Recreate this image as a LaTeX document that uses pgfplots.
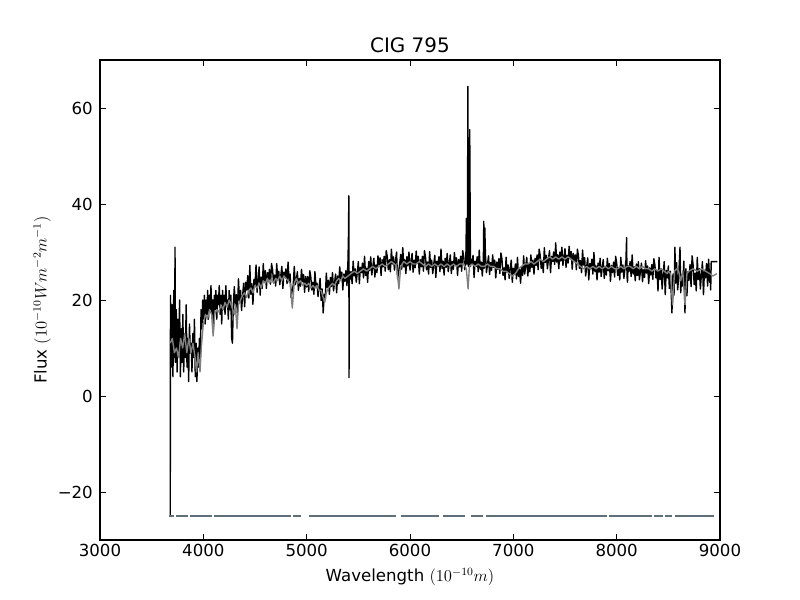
\documentclass[border=0pt]{standalone}
\usepackage{pgfplots}
\pgfplotsset{compat=1.18}
\usepackage{fontspec}
\setmainfont{DejaVu Sans}
\definecolor{mgray}{HTML}{808080}
\definecolor{slate}{HTML}{60707A}
\begin{document}
\begin{tikzpicture}
\useasboundingbox (0,0) rectangle (578.16pt,433.62pt);
\begin{axis}[
  at={(72.27pt,43.36pt)}, anchor=south west,
  scale only axis, width=448.07pt, height=346.9pt,
  xmin=3000, xmax=9000, ymin=-30, ymax=70,
  xtick={3000,4000,5000,6000,7000,8000,9000},
  xticklabels={3000,4000,5000,6000,7000,8000,9000},
  ytick={-20,0,20,40,60},
  yticklabels={−20,0,20,40,60},
  tick align=inside,
  major tick length=4pt,
  tick style={black, line width=0.5pt},
  axis line style={line width=1pt},
  xticklabel style={anchor=base, yshift=-11.8pt, inner sep=0pt, font=\fontsize{12}{14}\selectfont},
  yticklabel style={anchor=east, xshift=-5pt, inner sep=0pt, font=\fontsize{12}{14}\selectfont},
  title={CIG 795},
  every axis title shift=0pt,
  title style={at={(axis description cs:0.5,1)}, anchor=base, yshift=5.4pt, inner sep=0pt, font=\fontsize{14.4}{17}\selectfont},
  xlabel={Wavelength $(10^{-10} m)$},
  xlabel style={at={(axis description cs:0.5,0)}, anchor=base, yshift=-30.3pt, inner sep=0pt, font=\fontsize{12}{14}\selectfont},
  ylabel={Flux $(10^{-10} W m^{-2} m^{-1})$},
  ylabel style={at={(axis description cs:0,0.5)}, anchor=center, rotate=0, yshift=41.9pt, inner sep=0pt, font=\fontsize{12}{14}\selectfont},
  unbounded coords=jump,
  clip=true,
]
% observed spectrum
\addplot[black, line width=1pt, line join=round] coordinates {
(3680,-25)(3682,21)(3690,6)(3698,19)(3706,4)(3714,22)(3722,8)(3726,31)(3730,7)(3738,18)
(3746,5)(3754,16)(3762,9)(3770,20)(3778,4)(3786,14)(3794,7)(3802,17)(3810,5)(3818,13)
(3826,8)(3834,19)(3842,6)(3850,12)(3858,3)(3866,15)(3874,9)(3882,11)(3890,5)(3898,13)
(3906,8)(3914,16)(3922,4)(3930,11)(3938,3)(3946,10)(3954,6)(3962,12)(3970,7)(3978,18)
(3986,14)(3994,20)(4002,16)(4010,21)(4018,15)(4026,20)(4034,17)(4042,22)(4050,16)(4058,21)
(4066,18)(4074,23)(4082,17)(4090,20)(4098,14)(4106,21)(4114,18)(4122,22)(4130,16)(4138,21)
(4146,19)(4154,23)(4162,17)(4170,21)(4178,15)(4186,22)(4194,18)(4202,21)(4210,17)(4218,23)
(4226,19)(4234,20)(4242,16)(4250,22)(4258,18)(4266,21)(4274,12)(4282,11)(4290,19)
(4300,22.8)(4310,18.7)(4320,21.1)(4330,17.4)(4340,24.4)(4350,19.8)(4360,22.0)(4370,17.8)(4380,20.8)(4390,23.5)
(4400,18.6)(4410,23.7)(4420,22.1)(4430,25.1)(4440,20.4)(4450,27.2)(4460,21.2)(4470,23.4)(4480,19.1)(4490,24.3)
(4500,23.0)(4510,27.3)(4520,21.6)(4530,24.2)(4540,26.9)(4550,21.0)(4560,24.8)(4570,22.4)(4580,27.6)(4590,23.7)
(4600,26.1)(4610,22.4)(4620,25.7)(4630,24.2)(4640,26.4)(4650,23.3)(4660,27.6)(4670,26.3)(4680,23.6)(4690,25.2)
(4700,22.9)(4710,27.6)(4720,24.5)(4730,26.0)(4740,23.2)(4750,25.2)(4760,27.0)(4770,22.4)(4780,25.8)(4790,24.7)
(4800,26.5)(4810,23.4)(4820,27.9)(4830,23.9)(4840,25.4)(4850,20.5)(4860,22.0)(4870,23.1)(4880,27.0)(4890,23.2)
(4900,24.1)(4910,25.9)(4920,22.0)(4930,24.5)(4940,22.9)(4950,26.4)(4960,23.8)(4970,25.3)(4980,21.6)(4990,24.9)
(5000,22.7)(5010,24.9)(5020,21.8)(5030,26.1)(5040,24.8)(5050,22.1)(5060,23.7)(5070,21.2)(5080,25.9)(5090,22.8)
(5100,23.5)(5110,20.7)(5120,22.7)(5130,24.5)(5140,19.9)(5150,22.3)(5160,17.3)(5170,21.2)(5180,20.1)(5190,25.6)
(5200,22.6)(5210,24.1)(5220,21.2)(5230,24.7)(5240,22.8)(5250,25.7)(5260,21.9)(5270,23.6)(5280,25.4)(5290,21.5)
(5300,25.0)(5310,23.4)(5320,26.9)(5330,24.3)(5340,25.8)(5350,22.1)(5360,25.4)(5370,23.9)(5380,26.1)(5390,23.0)
(5400,28.3)(5405,34)(5408,41.7)(5410,3.8)(5413,26)(5420,24.3)(5430,25.9)(5440,23.4)(5450,28.1)(5460,25.0)(5470,26.5)(5480,23.7)(5490,25.7)
(5500,28.0)(5510,23.4)(5520,26.8)(5530,25.7)(5540,27.7)(5550,24.6)(5560,29.1)(5570,25.1)(5580,26.6)(5590,23.7)
(5600,28.0)(5610,26.1)(5620,29.0)(5630,25.2)(5640,26.9)(5650,28.7)(5660,24.8)(5670,27.3)(5680,25.7)(5690,29.2)
(5700,27.3)(5710,28.8)(5720,25.1)(5730,28.4)(5740,26.9)(5750,29.1)(5760,26.0)(5770,30.3)(5780,29.0)(5790,26.3)
(5800,28.4)(5810,25.9)(5820,30.6)(5830,27.5)(5840,29.0)(5850,26.2)(5860,28.2)(5870,30.0)(5880,24.4)(5890,25.8)
(5900,27.5)(5910,29.5)(5920,26.4)(5930,30.9)(5940,26.9)(5950,28.4)(5960,25.5)(5970,29.0)(5980,27.1)(5990,30.0)
(6000,26.2)(6010,27.9)(6020,29.7)(6030,25.8)(6040,28.3)(6050,26.7)(6060,30.2)(6070,27.6)(6080,29.1)(6090,25.4)
(6100,28.4)(6110,26.9)(6120,29.1)(6130,26.0)(6140,30.3)(6150,29.0)(6160,26.3)(6170,27.9)(6180,25.4)(6190,30.1)
(6200,26.8)(6210,28.3)(6220,25.5)(6230,27.5)(6240,29.3)(6250,24.7)(6260,28.1)(6270,27.0)(6280,29.0)(6290,25.9)
(6300,30.6)(6310,26.6)(6320,28.1)(6330,25.2)(6340,28.7)(6350,26.8)(6360,29.7)(6370,25.9)(6380,27.6)(6390,29.4)
(6400,25.5)(6410,28.0)(6420,26.4)(6430,29.9)(6440,27.3)(6450,28.8)(6460,25.1)(6470,28.4)(6480,26.9)(6490,29.1)
(6500,26.0)(6510,30.3)(6520,29.0)(6530,26.3)(6540,27.9)(6546,37)(6550,27.5)(6556,30)(6560,64.5)(6565,27)
(6572,28)(6578,55.5)(6585,27)(6590,28.5)
(6600,27.5)(6610,29.3)(6620,24.7)(6630,28.1)(6640,27.0)(6650,29.0)(6660,25.9)(6670,30.4)(6680,26.4)(6690,27.9)
(6700,25.0)(6710,28.5)(6714,36.4)(6718,26.6)(6724,35.0)(6730,29.5)(6740,25.7)(6750,27.4)(6760,29.2)(6770,25.3)(6780,27.8)(6790,26.2)
(6800,29.4)(6810,26.8)(6820,28.3)(6830,24.6)(6840,27.9)(6850,26.4)(6860,28.6)(6870,25.5)(6880,29.8)(6890,28.5)
(6900,25.1)(6910,26.7)(6920,24.2)(6930,28.9)(6940,25.8)(6950,27.3)(6960,24.5)(6970,26.5)(6980,28.3)(6990,23.7)
(7000,26.6)(7010,25.5)(7020,27.5)(7030,24.4)(7040,28.9)(7050,24.9)(7060,26.4)(7070,23.5)(7080,27.0)(7090,25.1)
(7100,29.2)(7110,25.4)(7120,27.1)(7130,28.9)(7140,25.0)(7150,27.5)(7160,25.9)(7170,29.4)(7180,26.8)(7190,28.3)
(7200,25.4)(7210,28.7)(7220,27.2)(7230,29.4)(7240,26.3)(7250,30.6)(7260,29.3)(7270,26.6)(7280,28.2)(7290,25.7)
(7300,30.9)(7310,27.8)(7320,29.3)(7330,26.5)(7340,28.5)(7350,30.3)(7360,25.7)(7370,29.1)(7380,28.0)(7390,30.0)
(7400,27.4)(7410,31.9)(7420,27.9)(7430,29.4)(7440,26.5)(7450,30.0)(7460,28.1)(7470,31.0)(7480,27.2)(7490,28.9)
(7500,30.7)(7510,26.8)(7520,29.3)(7530,27.7)(7540,31.2)(7550,28.6)(7560,30.1)(7570,26.4)(7580,29.7)(7590,28.2)
(7600,29.4)(7610,26.3)(7620,30.6)(7630,29.3)(7640,26.6)(7650,28.2)(7660,25.7)(7670,30.4)(7680,27.3)(7690,28.8)
(7700,25.0)(7710,27.0)(7720,28.8)(7730,24.2)(7740,27.6)(7750,26.5)(7760,28.5)(7770,25.4)(7780,29.9)(7790,25.9)
(7800,27.1)(7810,24.2)(7820,27.7)(7830,25.8)(7840,28.7)(7850,24.9)(7860,26.6)(7870,28.4)(7880,24.5)(7890,27.0)
(7900,25.2)(7910,28.7)(7920,26.1)(7930,27.6)(7940,23.9)(7950,27.2)(7960,25.7)(7970,27.9)(7980,24.8)(7990,29.1)
(8000,27.8)(8010,25.1)(8020,26.7)(8030,24.2)(8040,28.9)(8050,25.8)(8060,27.3)(8070,24.5)(8080,26.5)(8090,28.3)
(8096,33)(8100,25)(8105,23.7)(8110,27.1)(8120,26.0)(8130,28.0)(8140,24.9)(8150,29.4)(8160,25.4)(8170,26.9)(8180,24.0)(8190,27.5)
(8200,25.1)(8210,28.0)(8220,24.2)(8230,25.9)(8240,27.7)(8250,23.8)(8260,26.3)(8270,24.7)(8280,28.2)(8290,25.6)
(8300,27.1)(8310,23.4)(8320,26.7)(8330,25.2)(8340,27.4)(8350,24.3)(8360,28.6)(8370,27.3)(8380,24.6)(8390,26.2)
(8400,21.9)(8410,28.9)(8420,24.3)(8430,26.5)(8440,22.3)(8450,25.3)(8460,28.0)(8470,21.1)(8480,26.2)(8490,24.6)
(8500,27.1)(8510,22.4)(8520,26.0)(8535,17.3)(8545,25.4)(8555,21.0)(8564,31)(8570,23.5)(8580,27.8)(8590,22.1)
(8600,24.7)(8613,31.0)(8620,21.5)(8630,25.3)(8640,22.9)(8650,28.1)(8661,17.3)(8670,26.5)(8680,20.9)(8690,25.9)
(8700,24.1)(8710,27.4)(8720,22.8)(8730,29.2)(8740,27.3)(8750,23.2)(8760,25.6)(8770,21.9)(8780,28.9)(8790,24.3)
(8800,26.5)(8810,22.3)(8820,25.3)(8830,28.0)(8840,21.1)(8850,26.2)(8860,24.6)(8870,27.6)(8880,22.9)(8890,28.5)
(8900,23.7)(8905,26)(8910,22.1)(8915,28)(8975,28)
};
% model spectrum
\addplot[mgray, line width=1pt, line join=round] coordinates {
(3680,11)(3700,12)(3720,9)(3740,10)(3760,8)(3780,12)(3800,10)(3820,13)(3840,9)(3860,12)
(3880,9)(3900,11)(3920,8)(3934,5)(3950,9)(3968,5)(3980,10)(4000,15)(4020,17)(4040,16)
(4060,18)(4080,17)(4095,12.5)(4110,17)(4130,18)(4150,17.5)(4170,19)(4190,18)(4210,19.5)(4230,18.5)
(4250,20)(4270,19)(4300,17)(4310,19)(4326,14)(4340,19)(4360,20)(4380,21)(4400,21.5)(4420,20.5)
(4440,22)(4460,22.5)(4480,21.5)(4500,23)(4520,22.5)(4540,23.5)(4560,22.5)(4580,24)(4600,23.5)(4620,24.5)
(4640,23.5)(4660,24.5)(4680,23.5)(4700,24.5)(4720,24)(4740,25)(4760,24)(4780,25)(4800,24.5)(4820,24)
(4840,23.5)(4861,18.3)(4880,23.5)(4900,24.5)(4920,23.5)(4940,24)(4960,23)(4980,23.5)(5000,23)(5020,23.5)
(5040,22.5)(5060,23)(5080,22.5)(5100,23)(5120,22)(5140,22)(5160,20.5)(5175,19.5)(5190,21.5)(5210,22.5)
(5230,23)(5250,23.5)(5270,23)(5290,24)(5310,24.5)(5330,24)(5350,25)(5370,24.5)(5400,25)(5430,25.5)
(5460,26)(5490,25.5)(5520,26)(5550,26.5)(5580,26)(5610,26.5)(5640,27)(5670,26.5)(5700,27)(5730,27.5)
(5760,27)(5790,27.5)(5820,28)(5850,27.5)(5870,27)(5893,22.3)(5910,27)(5940,28)(5970,27.5)(6000,28)
(6030,27.5)(6060,27.5)(6090,28)(6120,27.5)(6150,27)(6180,27.5)(6210,27)(6240,27.5)(6270,27)(6300,27.5)
(6330,27)(6360,27.5)(6390,27)(6420,27.5)(6450,27)(6480,27.5)(6520,27.5)(6545,26.5)(6562,22.3)(6575,27)
(6600,27.5)(6630,27)(6660,27.5)(6690,27)(6720,27)(6750,27.5)(6780,27)(6810,27)(6840,26.5)(6870,26.5)
(6900,26)(6930,26)(6960,25.5)(6990,25)(7020,25.5)(7050,26.5)(7080,27)(7110,27.5)(7140,27.5)(7170,28)
(7200,27.5)(7230,28)(7260,28.5)(7290,28)(7320,28.5)(7350,29)(7380,28.5)(7410,29)(7440,28.5)(7470,29)
(7500,28.5)(7530,29)(7560,28.5)(7590,28)(7620,27.5)(7650,27)(7680,26.5)(7710,27)(7740,26.5)(7770,27)
(7800,26.5)(7830,27)(7860,26.5)(7890,27)(7920,26.5)(7950,27)(7980,26.5)(8010,26.5)(8040,27)(8070,26.5)
(8100,27)(8130,27)(8160,26.5)(8190,27)(8220,26.5)(8250,27)(8280,26.5)(8310,26.5)(8340,26)(8370,26.5)
(8400,26)(8430,26.5)(8460,26)(8490,25.5)(8500,26)(8520,25.5)(8542,19)(8560,26)(8580,26.5)(8600,26)
(8620,24)(8640,26)(8662,19)(8680,25.5)(8700,26)(8740,26.5)(8780,26)(8820,26.5)(8860,26)(8900,25.5)
(8930,25)(8970,25.5)
};
% mask line
\addplot[slate, line width=1.3pt] coordinates {
(3668,-25)(3720,-25)(3732,nan)(3732,-25)(3855,-25)(3867,nan)(3867,-25)(4088,-25)(4100,nan)(4100,-25)(4848,-25)
(4855,nan)(4863,-25)(4941,-25)(4980,nan)(5018,-25)(5865,-25)(5890,nan)(5913,-25)(6281,-25)
(6300,nan)(6319,-25)(6537,-25)(6560,nan)(6595,-25)(6702,-25)(6720,nan)(6735,-25)(7906,-25)
(7915,nan)(7926,-25)(8342,-25)(8350,nan)(8361,-25)(8448,-25)(8458,nan)(8468,-25)(8535,-25)
(8550,nan)(8565,-25)(8942,-25)
};
\end{axis}
\end{tikzpicture}
\end{document}
